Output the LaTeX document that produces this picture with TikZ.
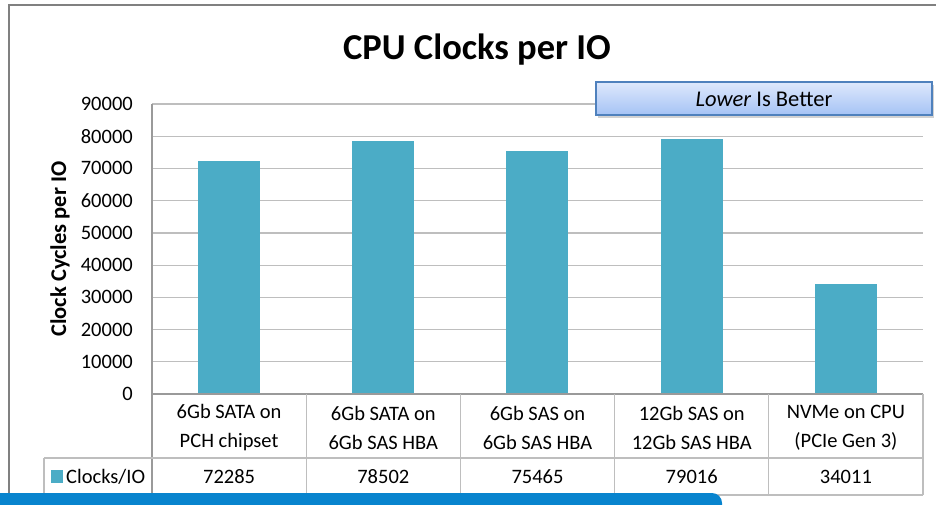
\documentclass[tikz,border=0pt]{standalone}
\usepackage{fontspec}
\setmainfont{Carlito}
\usepackage{tikz}
\usetikzlibrary{shadows}
\definecolor{barcyan}{RGB}{75, 172, 198}
\definecolor{gridgray}{RGB}{190, 190, 190}
\definecolor{framegray}{RGB}{128, 128, 128}
\definecolor{boxtop}{RGB}{222, 232, 252}
\definecolor{boxbottom}{RGB}{165, 195, 245}
\definecolor{boxedge}{RGB}{79, 129, 189}
\definecolor{stripblue}{RGB}{8, 132, 206}

\begin{document}
\begin{tikzpicture}[x=1pt, y=-1pt, every node/.style={inner sep=0pt, font=\fontsize{20.5}{29}\selectfont}]
    \useasboundingbox (0, 0) rectangle (936, 505);
    \clip (0, 0) rectangle (936, 505);
    \fill[white] (0, 0) rectangle (936, 505);

    \draw[framegray, line width=2pt] (9, 510) -- (9, 5) -- (940, 5);
    \node (title) at (477, 50) {\fontsize{36.5}{42}\selectfont\bfseries CPU Clocks per IO};

    \draw[gridgray, line width=1.2pt] (152, 104.0) -- (923, 104.0);
    \draw[gridgray, line width=1.2pt] (152, 136.2) -- (923, 136.2);
    \draw[gridgray, line width=1.2pt] (152, 168.4) -- (923, 168.4);
    \draw[gridgray, line width=1.2pt] (152, 200.7) -- (923, 200.7);
    \draw[gridgray, line width=1.2pt] (152, 232.9) -- (923, 232.9);
    \draw[gridgray, line width=1.2pt] (152, 265.1) -- (923, 265.1);
    \draw[gridgray, line width=1.2pt] (152, 297.3) -- (923, 297.3);
    \draw[gridgray, line width=1.2pt] (152, 329.6) -- (923, 329.6);
    \draw[gridgray, line width=1.2pt] (152, 361.8) -- (923, 361.8);

    \node[anchor=east] (t9) at (133, 104.0) {90000};
    \node[anchor=east] (t8) at (133, 136.2) {80000};
    \node[anchor=east] (t7) at (133, 168.4) {70000};
    \node[anchor=east] (t6) at (133, 200.7) {60000};
    \node[anchor=east] (t5) at (133, 232.9) {50000};
    \node[anchor=east] (t4) at (133, 265.1) {40000};
    \node[anchor=east] (t3) at (133, 297.3) {30000};
    \node[anchor=east] (t2) at (133, 329.6) {20000};
    \node[anchor=east] (t1) at (133, 361.8) {10000};
    \node[anchor=east] (t0) at (133, 394.0) {0};
    \node[rotate=90] (ytitle) at (60, 249) {\fontsize{22.5}{27}\selectfont\bfseries Clock Cycles per IO};

    \fill[barcyan] (198, 161.1) rectangle (260, 394);
    \fill[barcyan] (352, 141.0) rectangle (414, 394);
    \fill[barcyan] (506, 150.8) rectangle (568, 394);
    \fill[barcyan] (661, 139.4) rectangle (723, 394);
    \fill[barcyan] (815, 284.4) rectangle (877, 394);

    \draw[framegray!80, line width=1.2pt] (152, 104) -- (152, 495);
    \draw[framegray!80, line width=1.2pt] (152, 394) -- (923, 394);
    \draw[gridgray, line width=1.2pt] (44, 458) -- (923, 458);
    \draw[gridgray, line width=1.2pt] (44, 495) -- (923, 495);
    \draw[gridgray, line width=1.2pt] (44, 458) -- (44, 495);
    \draw[gridgray, line width=1.2pt] (306.2, 394) -- (306.2, 495);
    \draw[gridgray, line width=1.2pt] (460.4, 394) -- (460.4, 495);
    \draw[gridgray, line width=1.2pt] (614.6, 394) -- (614.6, 495);
    \draw[gridgray, line width=1.2pt] (768.8, 394) -- (768.8, 495);
    \draw[gridgray, line width=1.2pt] (923, 394) -- (923, 495);

    \node[align=center] (cat1) at (229.1, 427.5) {6Gb SATA on\\PCH chipset};
    \node[align=center] (cat2) at (383.3, 427.5) {6Gb SATA on\\6Gb SAS HBA};
    \node[align=center] (cat3) at (537.5, 427.5) {6Gb SAS on\\6Gb SAS HBA};
    \node[align=center] (cat4) at (691.7, 427.5) {12Gb SAS on\\12Gb SAS HBA};
    \node[align=center] (cat5) at (845.9, 427.5) {NVMe on CPU\\(PCIe Gen 3)};

    \fill[barcyan] (51, 470) rectangle (63, 483);
    \node[anchor=west] (legend) at (66, 477) {Clocks/IO};
    \node (val1) at (229.1, 477) {72285};
    \node (val2) at (383.3, 477) {78502};
    \node (val3) at (537.5, 477) {75465};
    \node (val4) at (691.7, 477) {79016};
    \node (val5) at (845.9, 477) {34011};

    \shade[top color=boxtop, bottom color=boxbottom, draw=boxedge, line width=1.5pt, drop shadow={opacity=0.35, shadow xshift=2pt, shadow yshift=-3pt}] (596, 82) rectangle (932, 115);
    \node (better) at (764, 99) {\fontsize{22.5}{27}\selectfont\textit{Lower} Is Better};

    \fill[stripblue, rounded corners=10pt] (-20, 493) rectangle (722, 530);
\end{tikzpicture}
\end{document}
